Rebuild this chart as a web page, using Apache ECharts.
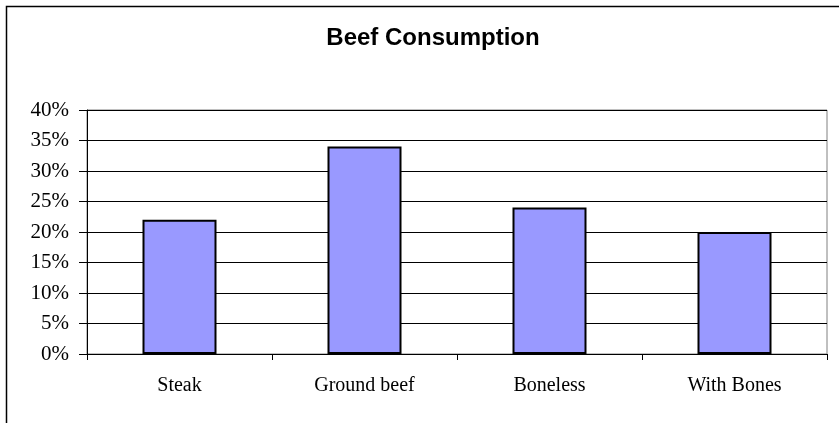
<!DOCTYPE html>
<html>
<head>
<meta charset="utf-8">
<script src="https://cdn.jsdelivr.net/npm/echarts@6/dist/echarts.min.js"></script>
<style>
  html, body { margin: 0; padding: 0; background: #fff; }
  #chart { width: 839px; height: 423px; }
</style>
</head>
<body>
<div id="chart"></div>
<script>
// data
const categories = ['Steak', 'Ground beef', 'Boneless', 'With Bones'];
const shares = [22, 34, 24, 20];

const serif = '"Liberation Serif", "Times New Roman", serif';

var myChart = echarts.init(document.getElementById('chart'));
myChart.setOption({
  animation: false,
  backgroundColor: '#fff',
  title: {
    text: 'Beef Consumption',
    left: 428,
    textAlign: 'center',
    top: 21,
    textStyle: {
      fontFamily: '"Liberation Sans", Arial, sans-serif',
      fontSize: 24,
      fontWeight: 'bold',
      color: '#000'
    }
  },
  // the frame is only visible on the top and left edges
  graphic: [
    {
      type: 'polyline',
      shape: { points: [[6.5, 423], [6.5, 6.5], [839, 6.5]] },
      style: { fill: null, stroke: '#000', lineWidth: 1.5 }
    }
  ],
  grid: {
    left: 87,
    right: 12,
    top: 110,
    bottom: 69,
    show: true,
    borderColor: '#808080',
    borderWidth: 1
  },
  xAxis: {
    type: 'category',
    data: categories,
    axisLine: { lineStyle: { color: '#000', width: 1 } },
    axisTick: { show: true, length: 6, lineStyle: { color: '#000' } },
    axisLabel: {
      margin: 22,
      fontFamily: serif,
      fontSize: 20,
      color: '#000'
    }
  },
  yAxis: {
    type: 'value',
    min: 0,
    max: 40,
    interval: 5,
    axisLine: { show: true, lineStyle: { color: '#000', width: 1 } },
    axisTick: { show: true, length: 8, lineStyle: { color: '#000' } },
    splitLine: { lineStyle: { color: '#000', width: 1 } },
    axisLabel: {
      margin: 18,
      fontFamily: serif,
      fontSize: 21,
      color: '#000',
      formatter: '{value}%'
    }
  },
  series: [{
    type: 'bar',
    data: shares,
    barWidth: '40%',
    itemStyle: {
      color: '#9999ff',
      borderColor: '#000',
      borderWidth: 2
    }
  }]
});
</script>
</body>
</html>
